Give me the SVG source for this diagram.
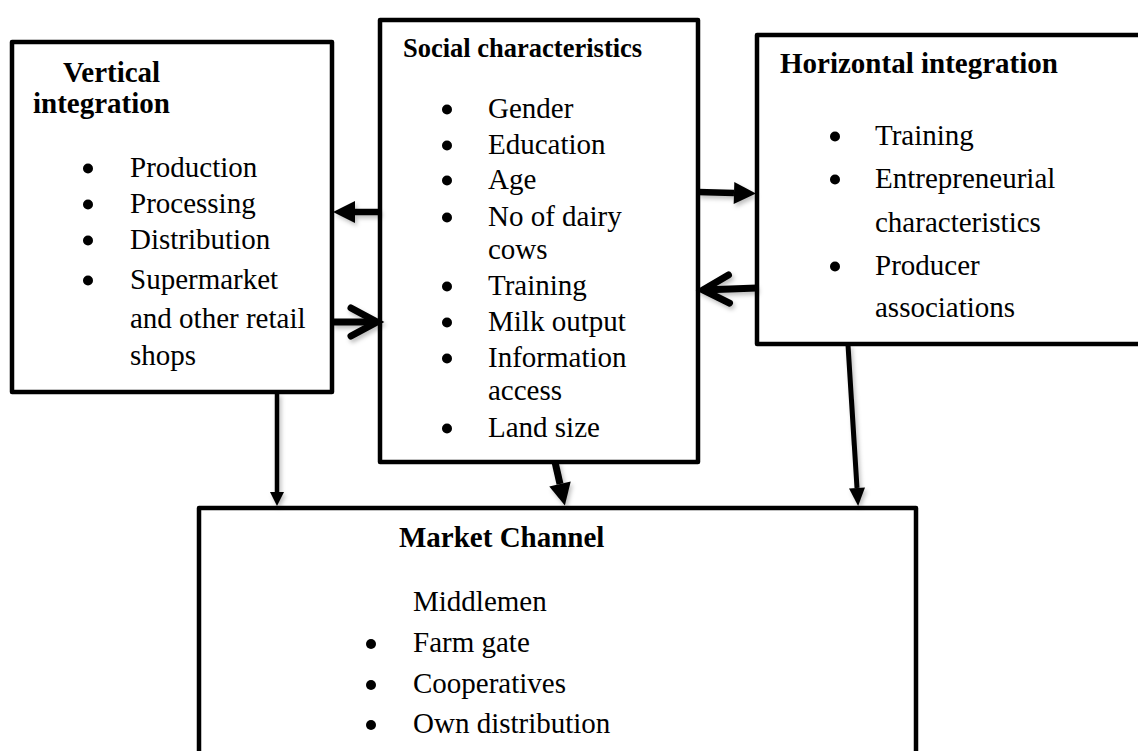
<svg xmlns="http://www.w3.org/2000/svg" width="1138" height="751" viewBox="0 0 1138 751">
<style>
.box{fill:#fff;stroke:#000;stroke-width:4.5;stroke-linejoin:round}
.t{font-family:"Liberation Serif","Times New Roman",serif;font-size:29px;fill:#000}
.b{font-weight:bold}
.bul{fill:#000}
.con{stroke:#000;fill:none;stroke-linecap:butt}
</style>
<defs>
<filter id="sh" x="-50%" y="-50%" width="200%" height="200%">
<feDropShadow dx="2" dy="3" stdDeviation="2" flood-color="#000" flood-opacity="0.25"/>
</filter>
<marker id="hL" markerUnits="userSpaceOnUse" viewBox="0 -11 22 22" refX="0" refY="0" markerWidth="22" markerHeight="22" orient="auto" overflow="visible">
<path d="M0,-11 L22,0 L0,11 Z" fill="#000"/>
</marker>
<marker id="hS" markerUnits="userSpaceOnUse" viewBox="0 -7 14 14" refX="0" refY="0" markerWidth="14" markerHeight="14" orient="auto" overflow="visible">
<path d="M0,-7 L14,0 L0,7 Z" fill="#000"/>
</marker>
<marker id="hM" markerUnits="userSpaceOnUse" viewBox="0 -8 18 16" refX="0" refY="0" markerWidth="18" markerHeight="16" orient="auto" overflow="visible">
<path d="M0,-8 L18,0 L0,8 Z" fill="#000"/>
</marker>
<marker id="chev" markerUnits="userSpaceOnUse" viewBox="-32 -20 36 40" refX="0" refY="0" markerWidth="36" markerHeight="40" orient="auto" overflow="visible">
<path d="M-26,-14 L0,0 L-26,14" fill="none" stroke="#000" stroke-width="7" stroke-linecap="round" stroke-linejoin="miter"/>
</marker>
</defs>

<g id="vertical">
<rect class="box" x="12" y="42" width="320" height="350"/>
<text class="t b" x="63" y="82">Vertical</text>
<text class="t b" x="33" y="113">integration</text>
<circle class="bul" cx="88" cy="168.5" r="5"/>
<text class="t" x="130" y="177">Production</text>
<circle class="bul" cx="88" cy="204.5" r="5"/>
<text class="t" x="130" y="213">Processing</text>
<circle class="bul" cx="88" cy="240.5" r="5"/>
<text class="t" x="130" y="249">Distribution</text>
<circle class="bul" cx="88" cy="280.5" r="5"/>
<text class="t" x="130" y="289">Supermarket</text>
<text class="t" x="130" y="328">and other retail</text>
<text class="t" x="130" y="365">shops</text>
</g>

<g id="social">
<rect class="box" x="380" y="20" width="318" height="442"/>
<text class="t b" x="403" y="57" style="font-size:26.5px">Social characteristics</text>
<circle class="bul" cx="447" cy="109.5" r="5"/>
<text class="t" x="488" y="118">Gender</text>
<circle class="bul" cx="447" cy="145.5" r="5"/>
<text class="t" x="488" y="154">Education</text>
<circle class="bul" cx="447" cy="180.5" r="5"/>
<text class="t" x="488" y="189">Age</text>
<circle class="bul" cx="447" cy="217.5" r="5"/>
<text class="t" x="488" y="226">No of dairy</text>
<text class="t" x="488" y="259">cows</text>
<circle class="bul" cx="447" cy="286.5" r="5"/>
<text class="t" x="488" y="295">Training</text>
<circle class="bul" cx="447" cy="322.5" r="5"/>
<text class="t" x="488" y="331">Milk output</text>
<circle class="bul" cx="447" cy="358.5" r="5"/>
<text class="t" x="488" y="367">Information</text>
<text class="t" x="488" y="400">access</text>
<circle class="bul" cx="447" cy="428.5" r="5"/>
<text class="t" x="488" y="437">Land size</text>
</g>

<g id="horizontal">
<rect class="box" x="757" y="35" width="400" height="309"/>
<text class="t b" x="780" y="73">Horizontal integration</text>
<circle class="bul" cx="835" cy="136.5" r="5"/>
<text class="t" x="875" y="145">Training</text>
<circle class="bul" cx="835" cy="179.5" r="5"/>
<text class="t" x="875" y="188">Entrepreneurial</text>
<text class="t" x="875" y="232">characteristics</text>
<circle class="bul" cx="835" cy="266.5" r="5"/>
<text class="t" x="875" y="275">Producer</text>
<text class="t" x="875" y="317">associations</text>
</g>

<g id="market">
<rect class="box" x="199" y="508" width="717" height="260"/>
<text class="t b" x="399" y="547">Market Channel</text>
<text class="t" x="413" y="611">Middlemen</text>
<circle class="bul" cx="371" cy="644" r="5"/>
<text class="t" x="413" y="652">Farm gate</text>
<circle class="bul" cx="371" cy="685" r="5"/>
<text class="t" x="413" y="693">Cooperatives</text>
<circle class="bul" cx="371" cy="725" r="5"/>
<text class="t" x="413" y="733">Own distribution</text>
</g>

<g id="connectors" filter="url(#sh)">
<line class="con" x1="380" y1="212" x2="355" y2="212" stroke-width="6.5" marker-end="url(#hL)"/>
<line class="con" x1="332" y1="322" x2="377" y2="322" stroke-width="7" marker-end="url(#chev)"/>
<line class="con" x1="698" y1="192" x2="734" y2="193" stroke-width="6.5" marker-end="url(#hL)"/>
<line class="con" x1="757" y1="288" x2="703" y2="290" stroke-width="7" marker-end="url(#chev)"/>
<line class="con" x1="277" y1="393" x2="277" y2="492" stroke-width="4.5" marker-end="url(#hS)"/>
<line class="con" x1="555" y1="462" x2="560" y2="484" stroke-width="7" marker-end="url(#hL)"/>
<line class="con" x1="848" y1="345" x2="857" y2="488" stroke-width="5" marker-end="url(#hM)"/>
</g>
</svg>
